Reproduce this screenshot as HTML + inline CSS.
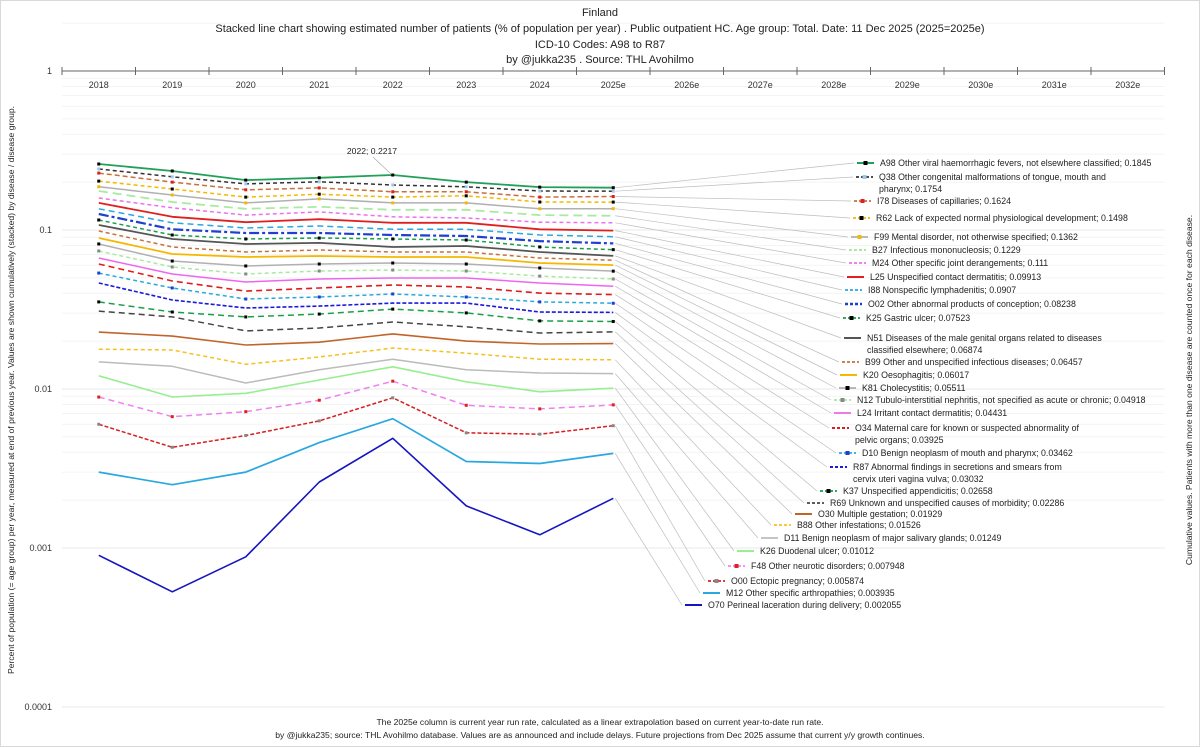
<!DOCTYPE html>
<html><head><meta charset="utf-8"><style>
html,body{margin:0;padding:0;background:#fff}
svg{display:block;font-family:"Liberation Sans",Arial,sans-serif}
</style></head><body>
<svg id="chart" width="1200" height="747" viewBox="0 0 1200 747">
<rect x="0.5" y="0.5" width="1199" height="746" fill="#fff" stroke="#d9d9d9"/>
<g font-size="11" fill="#222" text-anchor="middle">
<text x="600" y="16">Finland</text>
<text x="600" y="32">Stacked line chart showing estimated number of patients  (% of population per year) . Public outpatient HC. Age group: Total. Date: 11 Dec 2025 (2025=2025e)</text>
<text x="600" y="48">ICD-10 Codes: A98 to R87</text>
<text x="600" y="63">by @jukka235 . Source: THL Avohilmo</text>
</g>
<text transform="translate(14,390) rotate(-90)" font-size="8.6" fill="#222" text-anchor="middle">Percent of population (= age group) per year, measured at end of previous year. Values are shown cumulatively (stacked) by disease / disease group.</text>
<text transform="translate(1192,390) rotate(-90)" font-size="8.6" fill="#222" text-anchor="middle">Cumulative values. Patients with more than one disease are counted once for each disease.</text>
<g font-size="8.6" fill="#222" text-anchor="middle">
<text x="600" y="725">The 2025e column is current year run rate, calculated as a linear extrapolation based on current year-to-date run rate.</text>
<text x="600" y="738">by @jukka235; source: THL Avohilmo database. Values are as announced and include delays. Future projections from Dec 2025 assume that current y/y growth continues.</text>
</g>
<g id="grid"></g><g id="axis"></g><g id="leaders"></g><g id="series"></g><g id="legend"></g>
<line x1="373" y1="157" x2="391" y2="174" stroke="#aaa" stroke-width="0.7"/>
<text x="372" y="154" font-size="8.6" fill="#222" text-anchor="middle">2022; 0.2217</text>
</svg>
<script>
const categories = ["2018","2019","2020","2021","2022","2023","2024","2025e","2026e","2027e","2028e","2029e","2030e","2031e","2032e"];
const yTicks = [1,0.1,0.01,0.001,0.0001];
const yTickLabels = ["1","0.1","0.01","0.001","0.0001"];
const seriesNames = [
"A98 Other viral haemorrhagic fevers, not elsewhere classified",
"Q38 Other congenital malformations of tongue, mouth and|pharynx",
"I78 Diseases of capillaries",
"R62 Lack of expected normal physiological development",
"F99 Mental disorder, not otherwise specified",
"B27 Infectious mononucleosis",
"M24 Other specific joint derangements",
"L25 Unspecified contact dermatitis",
"I88 Nonspecific lymphadenitis",
"O02 Other abnormal products of conception",
"K25 Gastric ulcer",
"N51 Diseases of the male genital organs related to diseases|classified elsewhere",
"B99 Other and unspecified infectious diseases",
"K20 Oesophagitis",
"K81 Cholecystitis",
"N12 Tubulo-interstitial nephritis, not specified as acute or chronic",
"L24 Irritant contact dermatitis",
"O34 Maternal care for known or suspected abnormality of|pelvic organs",
"D10 Benign neoplasm of mouth and pharynx",
"R87 Abnormal findings in secretions and smears from|cervix uteri vagina vulva",
"K37 Unspecified appendicitis",
"R69 Unknown and unspecified causes of morbidity",
"O30 Multiple gestation",
"B88 Other infestations",
"D11 Benign neoplasm of major salivary glands",
"K26 Duodenal ulcer",
"F48 Other neurotic disorders",
"O00 Ectopic pregnancy",
"M12 Other specific arthropathies",
"O70 Perineal laceration during delivery"];
const valuesA98 = [0.260,0.235,0.206,0.213,0.2217,0.200,0.186,0.1845];
const valuesQ38 = [0.242,0.216,0.195,0.201,0.192,0.187,0.176,0.1754];
const valuesI78 = [0.228,0.200,0.179,0.184,0.174,0.174,0.161,0.1624];
const valuesR62 = [0.203,0.181,0.161,0.168,0.161,0.164,0.150,0.1498];
const valuesF99 = [0.187,0.166,0.148,0.157,0.148,0.148,0.136,0.1362];
const valuesB27 = [0.176,0.150,0.136,0.140,0.134,0.134,0.124,0.1229];
const valuesM24 = [0.159,0.138,0.124,0.130,0.121,0.119,0.112,0.111];
const valuesL25 = [0.148,0.121,0.112,0.117,0.111,0.111,0.101,0.09913];
const valuesI88 = [0.136,0.111,0.103,0.106,0.101,0.101,0.093,0.0907];
const valuesO02 = [0.126,0.101,0.0957,0.0957,0.093,0.0917,0.0852,0.08238];
const valuesK25 = [0.1156,0.093,0.0878,0.089,0.0878,0.0865,0.0782,0.07523];
const valuesN51 = [0.1075,0.0878,0.0817,0.0829,0.0782,0.0793,0.0727,0.06874];
const valuesB99 = [0.0986,0.0782,0.0727,0.0749,0.0727,0.0727,0.0667,0.06457];
const valuesK20 = [0.089,0.0706,0.0676,0.0686,0.0676,0.0676,0.0620,0.06017];
const valuesK81 = [0.0817,0.0638,0.0594,0.0611,0.0620,0.0611,0.0577,0.05511];
const valuesN12 = [0.0738,0.0585,0.0529,0.0552,0.056,0.0552,0.0513,0.04918];
const valuesL24 = [0.0667,0.0529,0.0471,0.0492,0.0499,0.0499,0.0464,0.04431];
const valuesO34 = [0.0611,0.0478,0.0413,0.0432,0.0451,0.0438,0.0401,0.03925];
const valuesD10 = [0.0536,0.0432,0.0368,0.0379,0.0396,0.0379,0.0353,0.03462];
const valuesR87 = [0.0464,0.0363,0.0323,0.0332,0.0347,0.0347,0.0305,0.03032];
const valuesK37 = [0.0353,0.0305,0.0284,0.0296,0.0318,0.0301,0.0268,0.02658];
const valuesR69 = [0.0309,0.0284,0.0232,0.0242,0.0264,0.0246,0.0225,0.02286];
const valuesO30 = [0.0228,0.0215,0.0189,0.0197,0.0222,0.0200,0.0192,0.01929];
const valuesB88 = [0.0178,0.0176,0.0143,0.0159,0.0181,0.0168,0.0154,0.01526];
const valuesD11 = [0.0148,0.0139,0.0109,0.0132,0.0154,0.0132,0.0126,0.01249];
const valuesK26 = [0.0121,0.0089,0.0094,0.0114,0.0138,0.0111,0.0096,0.01012];
const valuesF48 = [0.0089,0.0067,0.0072,0.0085,0.0112,0.0079,0.0075,0.007948];
const valuesO00 = [0.0060,0.0043,0.0051,0.0063,0.0088,0.0053,0.0052,0.005874];
const valuesM12 = [0.0030,0.0025,0.0030,0.0046,0.0065,0.0035,0.0034,0.003935];
const valuesO70 = [0.00090,0.00053,0.00088,0.0026,0.0049,0.00184,0.00121,0.002055];
const allValues = [valuesA98,valuesQ38,valuesI78,valuesR62,valuesF99,valuesB27,valuesM24,valuesL25,valuesI88,valuesO02,valuesK25,valuesN51,valuesB99,valuesK20,valuesK81,valuesN12,valuesL24,valuesO34,valuesD10,valuesR87,valuesK37,valuesR69,valuesO30,valuesB88,valuesD11,valuesK26,valuesF48,valuesO00,valuesM12,valuesO70];

const styles = [
["#22a05a","",1.8,"#000"],["#333","4,3",1.5,"#9cc8ee"],["#c8703a","5,3",1.5,"#e02020"],["#f5b800","4,3",1.5,"#000"],
["#b0b0b0","",1.5,"#f5b800"],["#a8eaa0","9,5",1.8,null],["#ee70ee","4,3",1.5,null],["#e02020","",1.8,null],
["#29a8e0","6,4",1.5,null],["#1f3fd0","10,3,3,3",2.2,null],["#1a9e4a","4,3",1.5,"#000"],["#555","",1.8,null],
["#c8703a","4,3",1.5,null],["#f5b800","",1.8,null],["#b0b0b0","",1.5,"#000"],["#a8eaa0","4,3",1.5,"#888"],
["#ee66ee","",1.5,null],["#e01b1b","6,4",1.6,null],["#29a8e0","4,3",1.5,"#1f3fd0"],["#1a1adb","4,2",1.6,null],
["#1a9e4a","6,4",1.5,"#000"],["#444","6,4",1.5,null],["#c0652a","",1.6,null],["#f5c020","4,3",1.5,null],
["#bbb","",1.5,null],["#98ee90","",1.6,null],["#ee82ee","6,4",1.5,"#e02020"],["#d62020","4,2",1.5,"#888"],
["#29a8e0","",1.7,null],["#1515c0","",1.6,null]];
const legendY = [163,177,201,218,237,250,263,277,290,304,318,338,362,375,388,400,413,428,453,467,491,503,514,525,538,551,566,581,593,605];
const legendX = [857,856,854,853,851,849,849,847,845,845,843,844,842,840,839,834,834,832,839,830,820,807,795,774,761,737,728,708,703,685];

const NS = "http://www.w3.org/2000/svg";
function mk(tag, attrs, parent){const e=document.createElementNS(NS,tag);for(const k in attrs)e.setAttribute(k,attrs[k]);parent.appendChild(e);return e;}
const X0=62, CW=73.5, Y1=71, DEC=159;
const xPos = i => X0 + CW*(i+0.5);
const yPos = v => Y1 - DEC*Math.log10(v);
const grid=document.getElementById('grid'), axis=document.getElementById('axis');
for(let d=0; d>=-4; d--){
  for(let m=1; m<=9; m++){
    if(d===-4 && m>1) break;
    const v=m*Math.pow(10,d);
    const gl=mk('line',{x1:X0,x2:X0+CW*categories.length,y1:yPos(v),y2:yPos(v),stroke:m===1?'#e0e0e0':'#f0f0f0','stroke-width':0.8},grid);
    
    
  }
}
yTicks.forEach((v,i)=>{
  const t=mk('text',{x:52,y:yPos(v)+3,'font-size':9,fill:'#333','text-anchor':'end'},axis);
  t.textContent=yTickLabels[i];
  
  
});
const al=mk('line',{x1:X0,x2:X0+CW*categories.length,y1:Y1,y2:Y1,stroke:'#666','stroke-width':1},axis);


for(let i=0;i<=categories.length;i++){
  const tk=mk('line',{x1:X0+CW*i,x2:X0+CW*i,y1:Y1-4,y2:Y1+4,stroke:'#666','stroke-width':1},axis);
  
  
}
categories.forEach((c,i)=>{
  const t=mk('text',{x:xPos(i),y:Y1+17,'font-size':9,fill:'#333','text-anchor':'middle'},axis);
  t.textContent=c;
  
  
});
const sg=document.getElementById('series'), lg=document.getElementById('legend'), ld=document.getElementById('leaders');
for(let s=allValues.length-1;s>=0;s--){
  const vals=allValues[s], st=styles[s];
  const code=seriesNames[s].split(' ')[0].toLowerCase();
  const pts=vals.map((v,i)=>xPos(i).toFixed(1)+','+yPos(v).toFixed(1)).join(' ');
  const pl=mk('polyline',{points:pts,fill:'none',stroke:st[0],'stroke-width':st[2],'stroke-dasharray':st[1],'stroke-linejoin':'round'},sg);
  
  
  if(st[3]){
    vals.forEach((v,i)=>{
      const m=mk('rect',{x:xPos(i)-1.5,y:yPos(v)-1.5,width:3,height:3,fill:st[3]},sg);
      
      
    });
  }
  const last=vals[vals.length-1];
  const ll=mk('line',{x1:xPos(7)+2,y1:yPos(last),x2:legendX[s]-3,y2:legendY[s],stroke:'#bdbdbd','stroke-width':0.7},ld);
  
  
  const smp=mk('line',{x1:legendX[s],x2:legendX[s]+17,y1:legendY[s],y2:legendY[s],stroke:st[0],'stroke-width':st[2]+0.3,'stroke-dasharray':st[1]?'3,2':''},lg);
  
  
  if(st[3]){
    const mm=mk('rect',{x:legendX[s]+6.5,y:legendY[s]-2,width:4,height:4,fill:st[3]},lg);
    
    
  }
  const parts=seriesNames[s].split('|');
  const t=mk('text',{x:legendX[s]+23,y:legendY[s]+3,'font-size':8.8,fill:'#222'},lg);
  
  
  if(parts.length===1){t.textContent=parts[0]+'; '+last;}
  else{
    const a=mk('tspan',{x:legendX[s]+23},t);a.textContent=parts[0];
    const b=mk('tspan',{x:legendX[s]+23,dy:12},t);b.textContent=parts[1]+'; '+last;
  }
}
</script>
</body></html>
